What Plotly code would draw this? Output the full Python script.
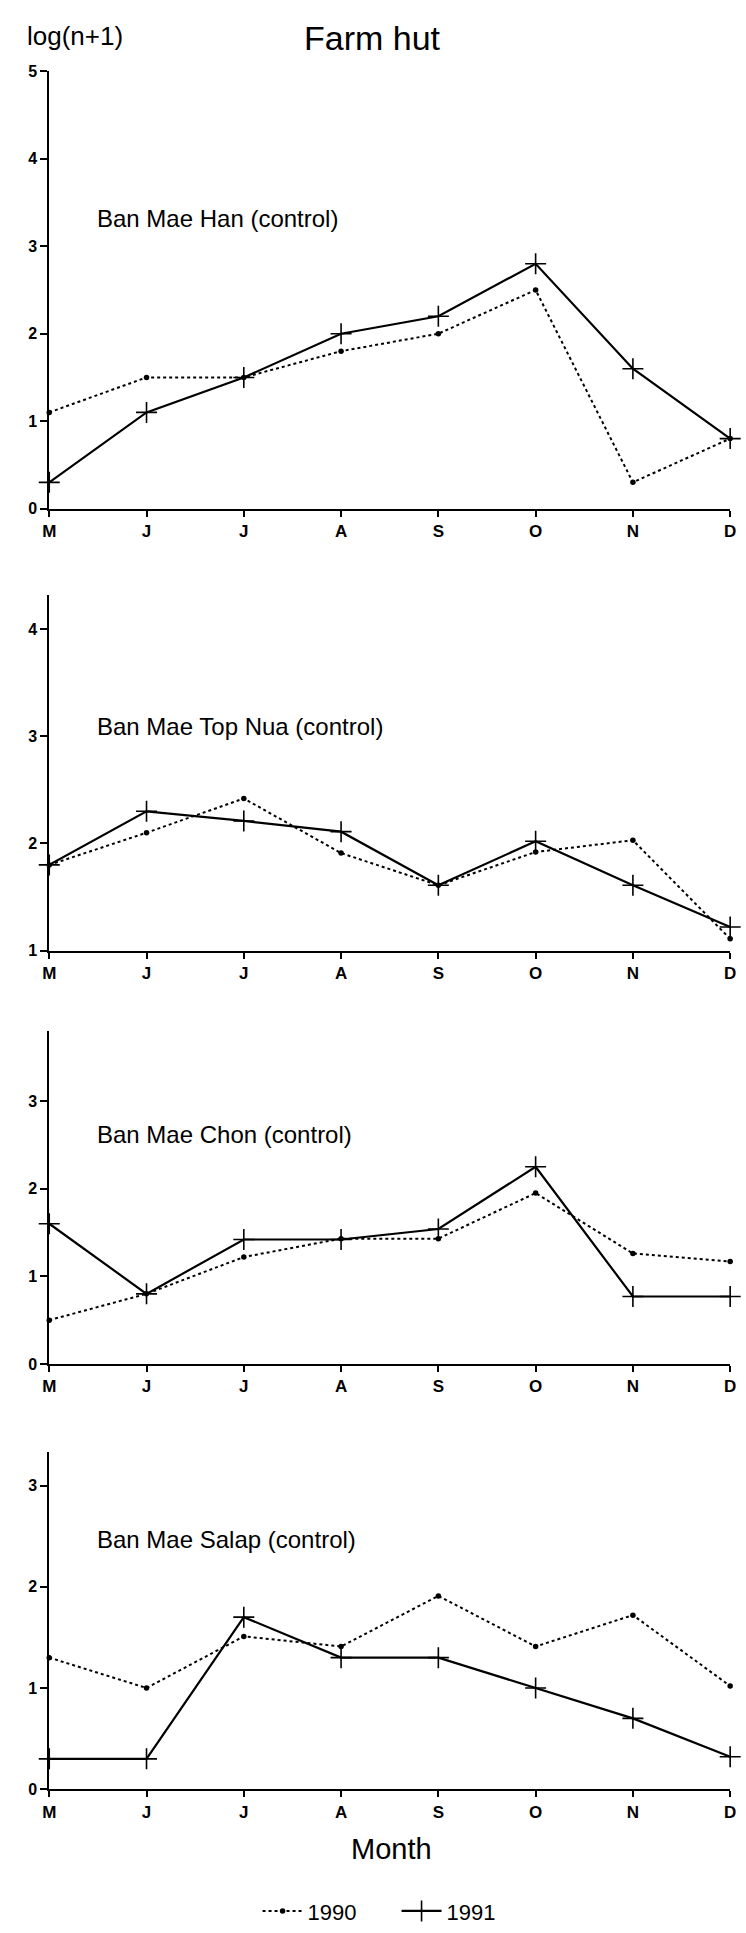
import plotly.graph_objects as go

months = ["May", "Jun", "Jul", "Aug", "Sep", "Oct", "Nov", "Dec"]
month_labels = ["M", "J", "J", "A", "S", "O", "N", "D"]

sites = ["Ban Mae Han (control)", "Ban Mae Top Nua (control)",
         "Ban Mae Chon (control)", "Ban Mae Salap (control)"]

han_1990 = [1.1, 1.5, 1.5, 1.8, 2.0, 2.5, 0.3, 0.8]
han_1991 = [0.3, 1.1, 1.5, 2.0, 2.2, 2.8, 1.6, 0.8]

topnua_1990 = [1.8, 2.1, 2.42, 1.91, 1.61, 1.92, 2.03, 1.11]
topnua_1991 = [1.8, 2.3, 2.21, 2.11, 1.61, 2.02, 1.61, 1.22]

chon_1990 = [0.5, 0.8, 1.22, 1.43, 1.43, 1.95, 1.26, 1.17]
chon_1991 = [1.6, 0.8, 1.42, 1.42, 1.54, 2.25, 0.77, 0.77]

salap_1990 = [1.3, 1.0, 1.51, 1.41, 1.91, 1.41, 1.72, 1.02]
salap_1991 = [0.3, 0.3, 1.70, 1.30, 1.30, 1.0, 0.70, 0.32]

series_1990 = [han_1990, topnua_1990, chon_1990, salap_1990]
series_1991 = [han_1991, topnua_1991, chon_1991, salap_1991]

y_ranges = [[0, 5], [1, 4.32], [0, 3.8], [0, 3.33]]
y_ticks = [[0, 1, 2, 3, 4, 5], [1, 2, 3, 4], [0, 1, 2, 3], [0, 1, 2, 3]]
label_y = [3.32, 3.09, 2.62, 2.47]

H = 1933.0
W = 746.0
panel_px = [(64, 505), (592, 951), (1032, 1368), (1457, 1797)]
x_dom = [43 / W, 736 / W]

FONT = "Liberation Sans, Arial, Helvetica, sans-serif"

fig = go.Figure()
xpos = list(range(len(months)))

for i in range(4):
    xa = "x" if i == 0 else f"x{i+1}"
    ya = "y" if i == 0 else f"y{i+1}"
    fig.add_trace(go.Scatter(
        x=xpos, y=series_1990[i], xaxis=xa, yaxis=ya, mode="lines+markers",
        line=dict(color="black", width=2, dash="dot"),
        marker=dict(symbol="circle", size=5.5, color="black"),
        name="1990", showlegend=(i == 0), cliponaxis=False,
        text=months, hovertemplate="%{text}: %{y}<extra>1990</extra>"))
    fig.add_trace(go.Scatter(
        x=xpos, y=series_1991[i], xaxis=xa, yaxis=ya, mode="lines+markers",
        line=dict(color="black", width=2.2),
        marker=dict(symbol="cross-thin", size=15, line=dict(color="black", width=1.6)),
        name="1991", showlegend=(i == 0), cliponaxis=False,
        text=months, hovertemplate="%{text}: %{y}<extra>1991</extra>"))

    top, bot = panel_px[i]
    xkey = "xaxis" if i == 0 else f"xaxis{i+1}"
    ykey = "yaxis" if i == 0 else f"yaxis{i+1}"
    fig.layout[xkey] = dict(
        domain=x_dom, range=[0, 7], anchor=ya,
        tickmode="array", tickvals=xpos, ticktext=month_labels,
        showline=True, linecolor="black", linewidth=2,
        ticks="outside", ticklen=6, tickwidth=1.5, tickcolor="black",
        showgrid=False, zeroline=False,
        tickfont=dict(family=FONT, size=17, color="black", weight="bold"))
    fig.layout[ykey] = dict(
        domain=[1 - bot / H, 1 - top / H], range=y_ranges[i], anchor=xa,
        tickmode="array", tickvals=y_ticks[i],
        showline=True, linecolor="black", linewidth=2,
        ticks="outside", ticklen=7, tickwidth=1.5, tickcolor="black",
        showgrid=False, zeroline=False,
        tickfont=dict(family=FONT, size=16, color="black", weight="bold"))

    fig.add_annotation(
        x=0.47, y=label_y[i], xref=xa, yref=ya, text=sites[i],
        showarrow=False, xanchor="left", yanchor="middle",
        font=dict(family=FONT, size=24, color="black"))

fig.add_annotation(x=18 / W, y=1 - 28 / H, xref="paper", yref="paper",
                   text="log(n+1)", showarrow=False, xanchor="left", yanchor="middle",
                   font=dict(family=FONT, size=26, color="black"))
fig.add_annotation(x=372 / W, y=1 - 30 / H, xref="paper", yref="paper",
                   text="Farm hut", showarrow=False, xanchor="center", yanchor="middle",
                   font=dict(family=FONT, size=34, color="black"))
fig.add_annotation(x=391 / W, y=1 - 1857 / H, xref="paper", yref="paper",
                   text="Month", showarrow=False, xanchor="center", yanchor="middle",
                   font=dict(family=FONT, size=29, color="black"))

fig.update_layout(
    width=746, height=1933,
    margin=dict(l=0, r=0, t=0, b=0),
    paper_bgcolor="white", plot_bgcolor="white",
    showlegend=True,
    legend=dict(orientation="h", x=255 / W, xanchor="left",
                y=1 - 1920 / H, yanchor="middle",
                itemwidth=40, entrywidth=84, entrywidthmode="pixels",
                font=dict(family=FONT, size=22, color="black"),
                bgcolor="rgba(0,0,0,0)"),
)

fig.write_html("out.html")
